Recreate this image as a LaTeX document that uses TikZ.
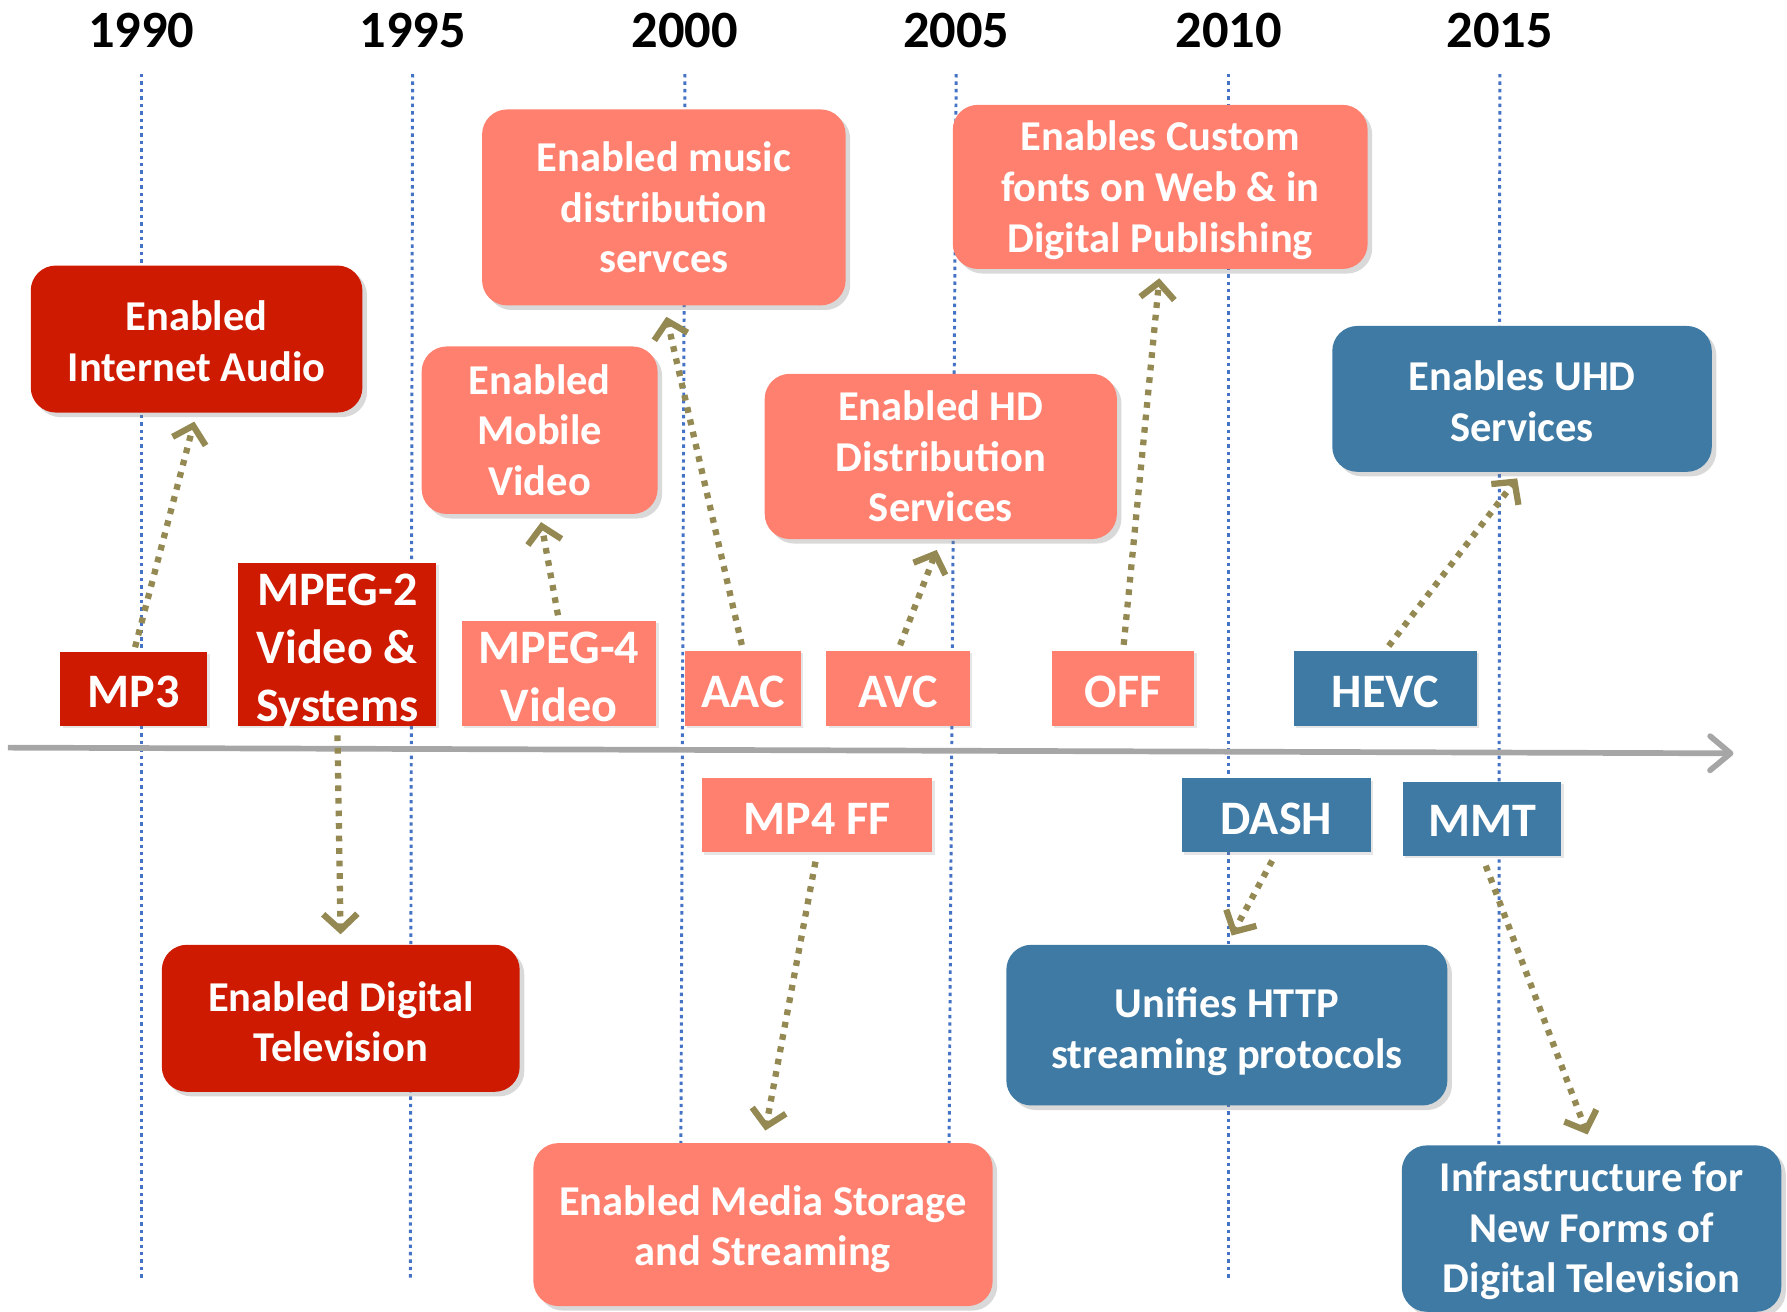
\documentclass[tikz,border=0pt]{standalone}
\usepackage{fontspec}
\setmainfont{Carlito}
\usetikzlibrary{arrows.meta,shadows}
\definecolor{cred}{RGB}{206,26,0}
\definecolor{csal}{RGB}{255,128,111}
\definecolor{cblue}{RGB}{62,122,164}
\definecolor{colive}{RGB}{148,137,82}
\definecolor{cdot}{RGB}{68,114,196}
\definecolor{caxis}{RGB}{166,166,166}
\begin{document}
\begin{tikzpicture}[x=1pt,y=-1pt,
  bigbox/.style={rounded corners=22pt, inner sep=0pt,
    drop shadow={shadow xshift=4pt,shadow yshift=-4pt,opacity=0.3}},
  bigtext/.style={align=center, text=white, inner sep=0pt,
    font=\bfseries\fontsize{37.3}{44.5}\selectfont},
  tagbox/.style={inner sep=0pt,
    drop shadow={shadow xshift=2pt,shadow yshift=-2pt,opacity=0.2}},
  tagtext/.style={align=center, text=white, inner sep=0pt,
    font=\bfseries\fontsize{42.2}{51}\selectfont},
  year/.style={font=\bfseries\fontsize{46}{54}\selectfont, inner sep=0pt},
  vline/.style={cdot, line width=2.6pt, dash pattern=on 3pt off 3.5pt},
  link/.style={colive, line width=5.5pt, dash pattern=on 5pt off 6pt,
    -{Straight Barb[length=14pt,width=30pt]}},
  axisline/.style={caxis, line width=5pt, -{Straight Barb[round,length=18pt,width=30pt]}}
]
\useasboundingbox (0,0) rectangle (1568,1151);

% years
\node[year] (y1990) at (124,27) {1990};
\node[year] (y1995) at (362,27) {1995};
\node[year] (y2000) at (601,27) {2000};
\node[year] (y2005) at (839,27) {2005};
\node[year] (y2010) at (1078,27) {2010};
\node[year] (y2015) at (1316,27) {2015};

% vertical dotted lines
\draw[vline] (124,65) -- (124,1122);
\draw[vline] (362,65) -- (360,1122);
\draw[vline] (601,65) -- (597,1122);
\draw[vline] (839,65) -- (832,1122);
\draw[vline] (1078,65) -- (1078,1122);
\draw[vline] (1316,65) -- (1315,1122);

% axis
\coordinate (axL) at (7,656);
\coordinate (axR) at (1521,661);
\draw[axisline] (axL) -- (axR);

% big boxes
\node[bigbox, fill=cred, minimum width=291pt, minimum height=129pt,
  label={[bigtext,yshift=-2pt]center:Enabled\\Internet Audio}] (audio) at (172.5,297.5) {};
\node[bigbox, fill=csal, minimum width=319pt, minimum height=172pt,
  label={[bigtext,yshift=0pt]center:Enabled music\\distribution\\servces}] (music) at (582.5,182) {};
\node[bigbox, fill=csal, minimum width=207pt, minimum height=147pt,
  label={[bigtext,yshift=0pt]center:Enabled\\Mobile\\Video}] (mobile) at (473.5,377.5) {};
\node[bigbox, fill=csal, minimum width=309pt, minimum height=145pt,
  label={[bigtext,yshift=0pt]center:Enabled HD\\Distribution\\Services}] (hd) at (825.5,400.5) {};
\node[bigbox, fill=csal, minimum width=364pt, minimum height=144pt,
  label={[bigtext,yshift=-3pt]center:Enables Custom\\fonts on Web \& in\\Digital Publishing}] (fonts) at (1018,164) {};
\node[bigbox, fill=cblue, minimum width=333pt, minimum height=128pt,
  label={[bigtext,yshift=-2pt]center:Enables UHD\\Services}] (uhd) at (1335.5,350) {};
\node[bigbox, fill=cred, minimum width=314pt, minimum height=129pt,
  label={[bigtext,yshift=-3pt]center:Enabled Digital\\Television}] (dtv) at (299,893.5) {};
\node[bigbox, fill=csal, minimum width=403pt, minimum height=143pt,
  label={[bigtext,yshift=-4pt]center:Enabled Media Storage\\and Streaming}] (media) at (669.5,1074.5) {};
\node[bigbox, fill=cblue, minimum width=387pt, minimum height=141pt,
  label={[bigtext,yshift=-6pt]center:Unifies HTTP\\streaming protocols}] (http) at (1076.5,899.5) {};
\node[bigbox, fill=cblue, minimum width=333pt, minimum height=146pt,
  label={[bigtext,yshift=-2pt]center:Infrastructure for\\New Forms of\\Digital Television}] (infra) at (1396.5,1078) {};

% tags
\node[tagbox, fill=cred, minimum width=129pt, minimum height=65pt,
  label={[tagtext,yshift=-3pt]center:MP3}] (mp3) at (117.5,604.5) {};
\node[tagbox, fill=cred, minimum width=174pt, minimum height=143pt,
  label={[tagtext,yshift=-6pt]center:MPEG-2\\Video \&\\Systems}] (mpeg2) at (296,565.5) {};
\node[tagbox, fill=csal, minimum width=171pt, minimum height=92pt,
  label={[tagtext,yshift=-3pt]center:MPEG-4\\Video}] (mpeg4) at (490.5,591) {};
\node[tagbox, fill=csal, minimum width=102pt, minimum height=66pt,
  label={[tagtext,yshift=-3pt]center:AAC}] (aac) at (652,604) {};
\node[tagbox, fill=csal, minimum width=126pt, minimum height=66pt,
  label={[tagtext,yshift=-3pt]center:AVC}] (avc) at (788,604) {};
\node[tagbox, fill=csal, minimum width=125pt, minimum height=66pt,
  label={[tagtext,yshift=-3pt]center:OFF}] (off) at (985.5,604) {};
\node[tagbox, fill=cblue, minimum width=161pt, minimum height=66pt,
  label={[tagtext,yshift=-3pt]center:HEVC}] (hevc) at (1215.5,604) {};
\node[tagbox, fill=csal, minimum width=202pt, minimum height=65pt,
  label={[tagtext,yshift=-3pt]center:MP4 FF}] (mp4ff) at (717,715.5) {};
\node[tagbox, fill=cblue, minimum width=166pt, minimum height=65pt,
  label={[tagtext,yshift=-3pt]center:DASH}] (dash) at (1120,715.5) {};
\node[tagbox, fill=cblue, minimum width=139pt, minimum height=65pt,
  label={[tagtext,yshift=-2pt]center:MMT}] (mmt) at (1300.5,718.5) {};

% connectors
\draw[link, shorten <=4pt, shorten >=8pt] (mp3.north) -- (audio.south);
\draw[link, shorten <=8pt, shorten >=9pt] (mpeg2.south) -- (dtv.north);
\draw[link, shorten <=5pt, shorten >=7pt] (mpeg4.north) -- (mobile.south);
\draw[link, shorten <=5pt, shorten >=10pt] (aac.north) -- (music.south);
\draw[link, shorten <=5pt, shorten >=10pt] (avc.north) -- (hd.south);
\draw[link, shorten <=5pt, shorten >=8pt] (off.north) -- (fonts.south);
\draw[link, shorten <=5pt, shorten >=7pt] (hevc.north) -- (uhd.south);
\draw[link, shorten <=8pt, shorten >=11pt] (mp4ff.south) -- (media.north);
\draw[link, shorten <=8pt, shorten >=9pt] (dash.south) -- (http.north);
\draw[link, shorten <=9pt, shorten >=10pt] (mmt.south) -- (infra.north);
\end{tikzpicture}
\end{document}
